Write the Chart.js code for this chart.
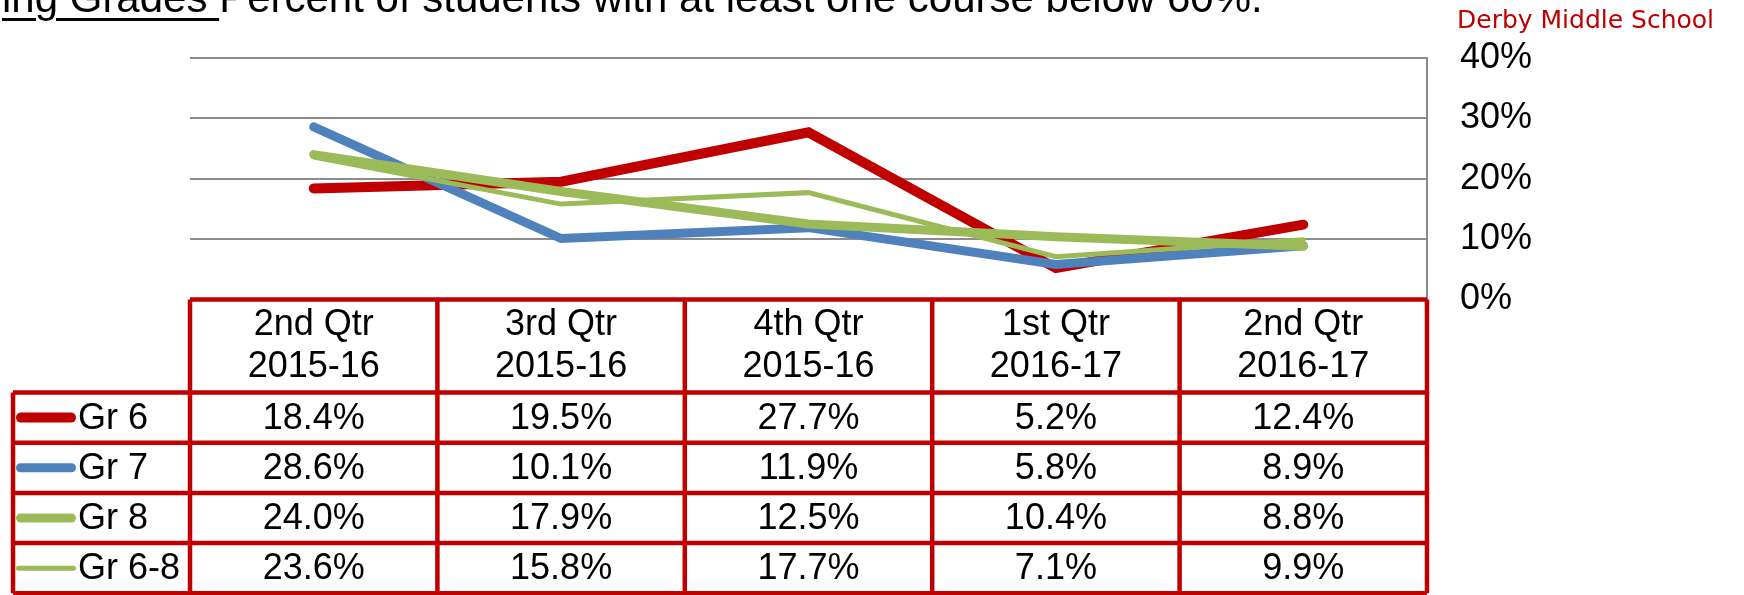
<!DOCTYPE html>
<html lang="en">
<head>
<meta charset="UTF-8">
<title>Failing Grades</title>
<style>
  html, body { margin: 0; padding: 0; background: #fff; }
  #wrap { position: relative; width: 1744px; height: 595px; overflow: hidden; }
  #chart { position: absolute; left: 0; top: 0; }
  #title { position: absolute; left: 2px; top: -23px; font: 42px/42px "Liberation Sans", Arial, sans-serif; color: #000; white-space: nowrap; }
  #title u { text-decoration-thickness: 3px; text-underline-offset: 6px; }
  #school { position: absolute; left: 1457px; top: 7px; font: 25px/25px "DejaVu Sans", Verdana, sans-serif; color: #c00000; white-space: nowrap; }
</style>
</head>
<body>
<div id="wrap">
  <canvas id="chart" width="1744" height="595"></canvas>
  <div id="title"><u>ing Grades </u>Percent of students with at least one course below 60%.</div>
  <div id="school">Derby Middle School</div>
</div>

<script src="https://cdn.jsdelivr.net/npm/chart.js@4.4.1/dist/chart.umd.min.js"></script>
<script>
// quarters (header of the table, two lines each)
const quarters = [
    ['2nd Qtr', '2015-16'],
    ['3rd Qtr', '2015-16'],
    ['4th Qtr', '2015-16'],
    ['1st Qtr', '2016-17'],
    ['2nd Qtr', '2016-17']
];
const seriesNames = ['Gr 6', 'Gr 7', 'Gr 8', 'Gr 6-8'];
const gr6 = [18.4, 19.5, 27.7, 5.2, 12.4];
const gr7 = [28.6, 10.1, 11.9, 5.8, 8.9];
const gr8 = [24.0, 17.9, 12.5, 10.4, 8.8];
const gr68 = [23.6, 15.8, 17.7, 7.1, 9.9];
const yTicks = [0, 10, 20, 30, 40];

const FONT = '"Liberation Sans", Arial, sans-serif';
const RED = '#c00000';

// draws the data table under the plot, lined up with the x scale
const tablePlugin = {
    id: 'dataTable',
    afterDraw(chart) {
        const ctx = chart.ctx;
        const xs = chart.scales.x;
        const ys = chart.scales.y;
        const n = quarters.length;
        const colW = (xs.right - xs.left) / n;
        const top = ys.getPixelForValue(0);
        const headH = 93, rowH = 50.2, legLeft = 13;
        const rowsTop = top + headH;
        const sets = chart.data.datasets;
        const bottom = rowsTop + rowH * sets.length;

        ctx.save();
        ctx.fillStyle = '#fff';
        ctx.fillRect(xs.left, top, xs.right - xs.left, bottom - top);
        ctx.fillStyle = '#000';
        ctx.font = '36px ' + FONT;
        ctx.textAlign = 'center';
        ctx.textBaseline = 'middle';
        quarters.forEach((q, i) => {
            const cx = xs.getPixelForValue(i);
            ctx.fillText(q[0], cx, top + headH / 2 - 21);
            ctx.fillText(q[1], cx, top + headH / 2 + 21);
        });

        sets.forEach((ds, r) => {
            const cy = rowsTop + rowH * r + rowH / 2 + 1;
            // legend key
            ctx.save();
            ctx.strokeStyle = ds.borderColor;
            ctx.lineWidth = ds.borderWidth;
            ctx.lineCap = 'round';
            ctx.beginPath();
            ctx.moveTo(16 + ds.borderWidth / 2, cy - 1);
            ctx.lineTo(76 - ds.borderWidth / 2, cy - 1);
            ctx.stroke();
            ctx.restore();
            ctx.textAlign = 'left';
            ctx.fillText(ds.label, 78, cy);
            ctx.textAlign = 'center';
            ds.data.forEach((v, i) => {
                ctx.fillText(v.toFixed(1) + '%', xs.getPixelForValue(i), cy);
            });
        });

        // red grid
        ctx.strokeStyle = RED;
        ctx.lineWidth = 4.5;
        ctx.beginPath();
        ctx.moveTo(xs.left, top); ctx.lineTo(xs.right, top);
        for (let r = 0; r <= sets.length; r++) {
            ctx.moveTo(legLeft, rowsTop + rowH * r);
            ctx.lineTo(xs.right, rowsTop + rowH * r);
        }
        ctx.moveTo(legLeft, rowsTop); ctx.lineTo(legLeft, bottom);
        for (let i = 0; i <= n; i++) {
            const x = xs.left + colW * i;
            ctx.moveTo(x, top); ctx.lineTo(x, bottom);
        }
        ctx.stroke();
        ctx.restore();
    }
};

const ctx = document.getElementById('chart').getContext('2d');
new Chart(ctx, {
    type: 'line',
    data: {
        labels: quarters.map(q => q.join(' ')),
        datasets: [
            { label: seriesNames[0], data: gr6, borderColor: RED, borderWidth: 10, order: 4 },
            { label: seriesNames[1], data: gr7, borderColor: '#4f81bd', borderWidth: 9, order: 3 },
            { label: seriesNames[2], data: gr8, borderColor: '#9bbb59', borderWidth: 9, order: 2 },
            { label: seriesNames[3], data: gr68, borderColor: '#9bbb59', borderWidth: 5, order: 1 }
        ]
    },
    options: {
        responsive: false,
        animation: false,
        layout: { padding: { left: 190, top: 58, right: 0, bottom: 295.5 } },
        elements: {
            line: { tension: 0, borderCapStyle: 'round', borderJoinStyle: 'miter', fill: false },
            point: { radius: 0, hoverRadius: 0 }
        },
        plugins: { legend: { display: false }, tooltip: { enabled: false } },
        scales: {
            x: { type: 'category', offset: true, display: false },
            y: {
                position: 'right',
                min: yTicks[0],
                max: yTicks[yTicks.length - 1],
                afterBuildTicks: s => { s.ticks = yTicks.map(v => ({ value: v })); },
                afterFit: s => { s.width = 317; },
                ticks: {
                    padding: 33,
                    color: '#000',
                    font: { family: FONT, size: 36 },
                    callback: v => v + '%'
                },
                grid: { color: '#8c8c8c', lineWidth: 2, drawTicks: false },
                border: { display: true, color: '#8c8c8c', width: 2 }
            }
        }
    },
    plugins: [tablePlugin]
});
</script>
</body>
</html>
